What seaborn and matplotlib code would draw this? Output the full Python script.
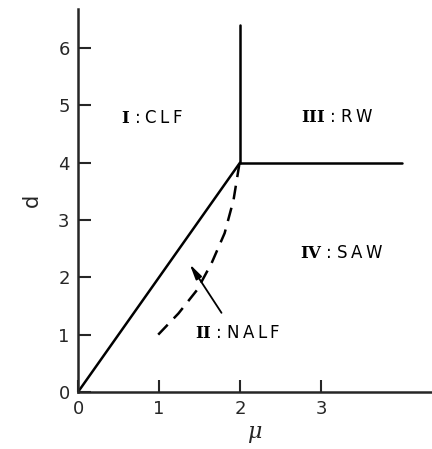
import matplotlib
matplotlib.use("Agg")
import matplotlib.pyplot as plt
import seaborn as sns
import pandas as pd

# Phase boundaries (mu, d)
boundary_mu = [0, 2]
boundary_d = [0, 4]
vertical_mu = [2, 2]
vertical_d = [4, 6.4]
horizontal_mu = [2, 4.0]
horizontal_d = [4, 4]
nalf_mu = [0.99, 1.24, 1.47, 1.65, 1.81, 1.92, 1.99]
nalf_d = [1.0, 1.37, 1.78, 2.25, 2.77, 3.35, 3.96]

xticks = [0, 1, 2, 3]
yticks = [0, 1, 2, 3, 4, 5, 6]
region_numerals = ["I", "II", "III", "IV"]
region_names = ["CLF", "NALF", "RW", "SAW"]
label_mu = [0.91, 1.97, 3.2, 3.26]
label_d = [4.78, 1.03, 4.8, 2.43]

sns.set_style("ticks")
plt.rcParams['font.family'] = ['DejaVu Sans']
plt.rcParams['mathtext.fontset'] = 'dejavuserif'

fig = plt.figure(figsize=(4.32, 4.49), dpi=100)
ax = fig.add_axes([0.1806, 0.127, 0.8194, 0.853])

lw = 1.8
df1 = pd.DataFrame({"mu": boundary_mu, "d": boundary_d})
sns.lineplot(data=df1, x="mu", y="d", ax=ax, color="black", lw=lw, sort=False)
df2 = pd.DataFrame({"mu": vertical_mu, "d": vertical_d})
sns.lineplot(data=df2, x="mu", y="d", ax=ax, color="black", lw=lw, sort=False, estimator=None)
df3 = pd.DataFrame({"mu": horizontal_mu, "d": horizontal_d})
sns.lineplot(data=df3, x="mu", y="d", ax=ax, color="black", lw=lw, sort=False)
df4 = pd.DataFrame({"mu": nalf_mu, "d": nalf_d})
sns.lineplot(data=df4, x="mu", y="d", ax=ax, color="black", lw=lw, sort=False,
             linestyle=(0, (5.5, 3.5)))

ax.annotate("", xy=(1.36, 2.27), xytext=(1.79, 1.34),
            arrowprops=dict(arrowstyle="-|>,head_length=0.9,head_width=0.2",
                            color="black", lw=1.3))

for num, name, x, y in zip(region_numerals, region_names, label_mu, label_d):
    spaced = "\u2009".join(name)
    ax.text(x, y, r"$\mathbf{" + num + r"}$ : " + spaced, ha="center", va="center",
            fontsize=12, color="black")

ax.set_xlim(0, 4.37)
ax.set_ylim(0, 6.68)
ax.set_xticks(xticks)
ax.set_yticks(yticks)
ax.tick_params(direction="in", length=9, width=1.5, labelsize=13, pad=6)
for s in ["top", "right"]:
    ax.spines[s].set_visible(False)
for s in ["left", "bottom"]:
    ax.spines[s].set_linewidth(1.8)
ax.set_xlabel(r"$\mu$", fontsize=16, labelpad=4)
ax.set_ylabel("d", fontsize=15, labelpad=12)

fig.savefig("out.png", dpi=100)
